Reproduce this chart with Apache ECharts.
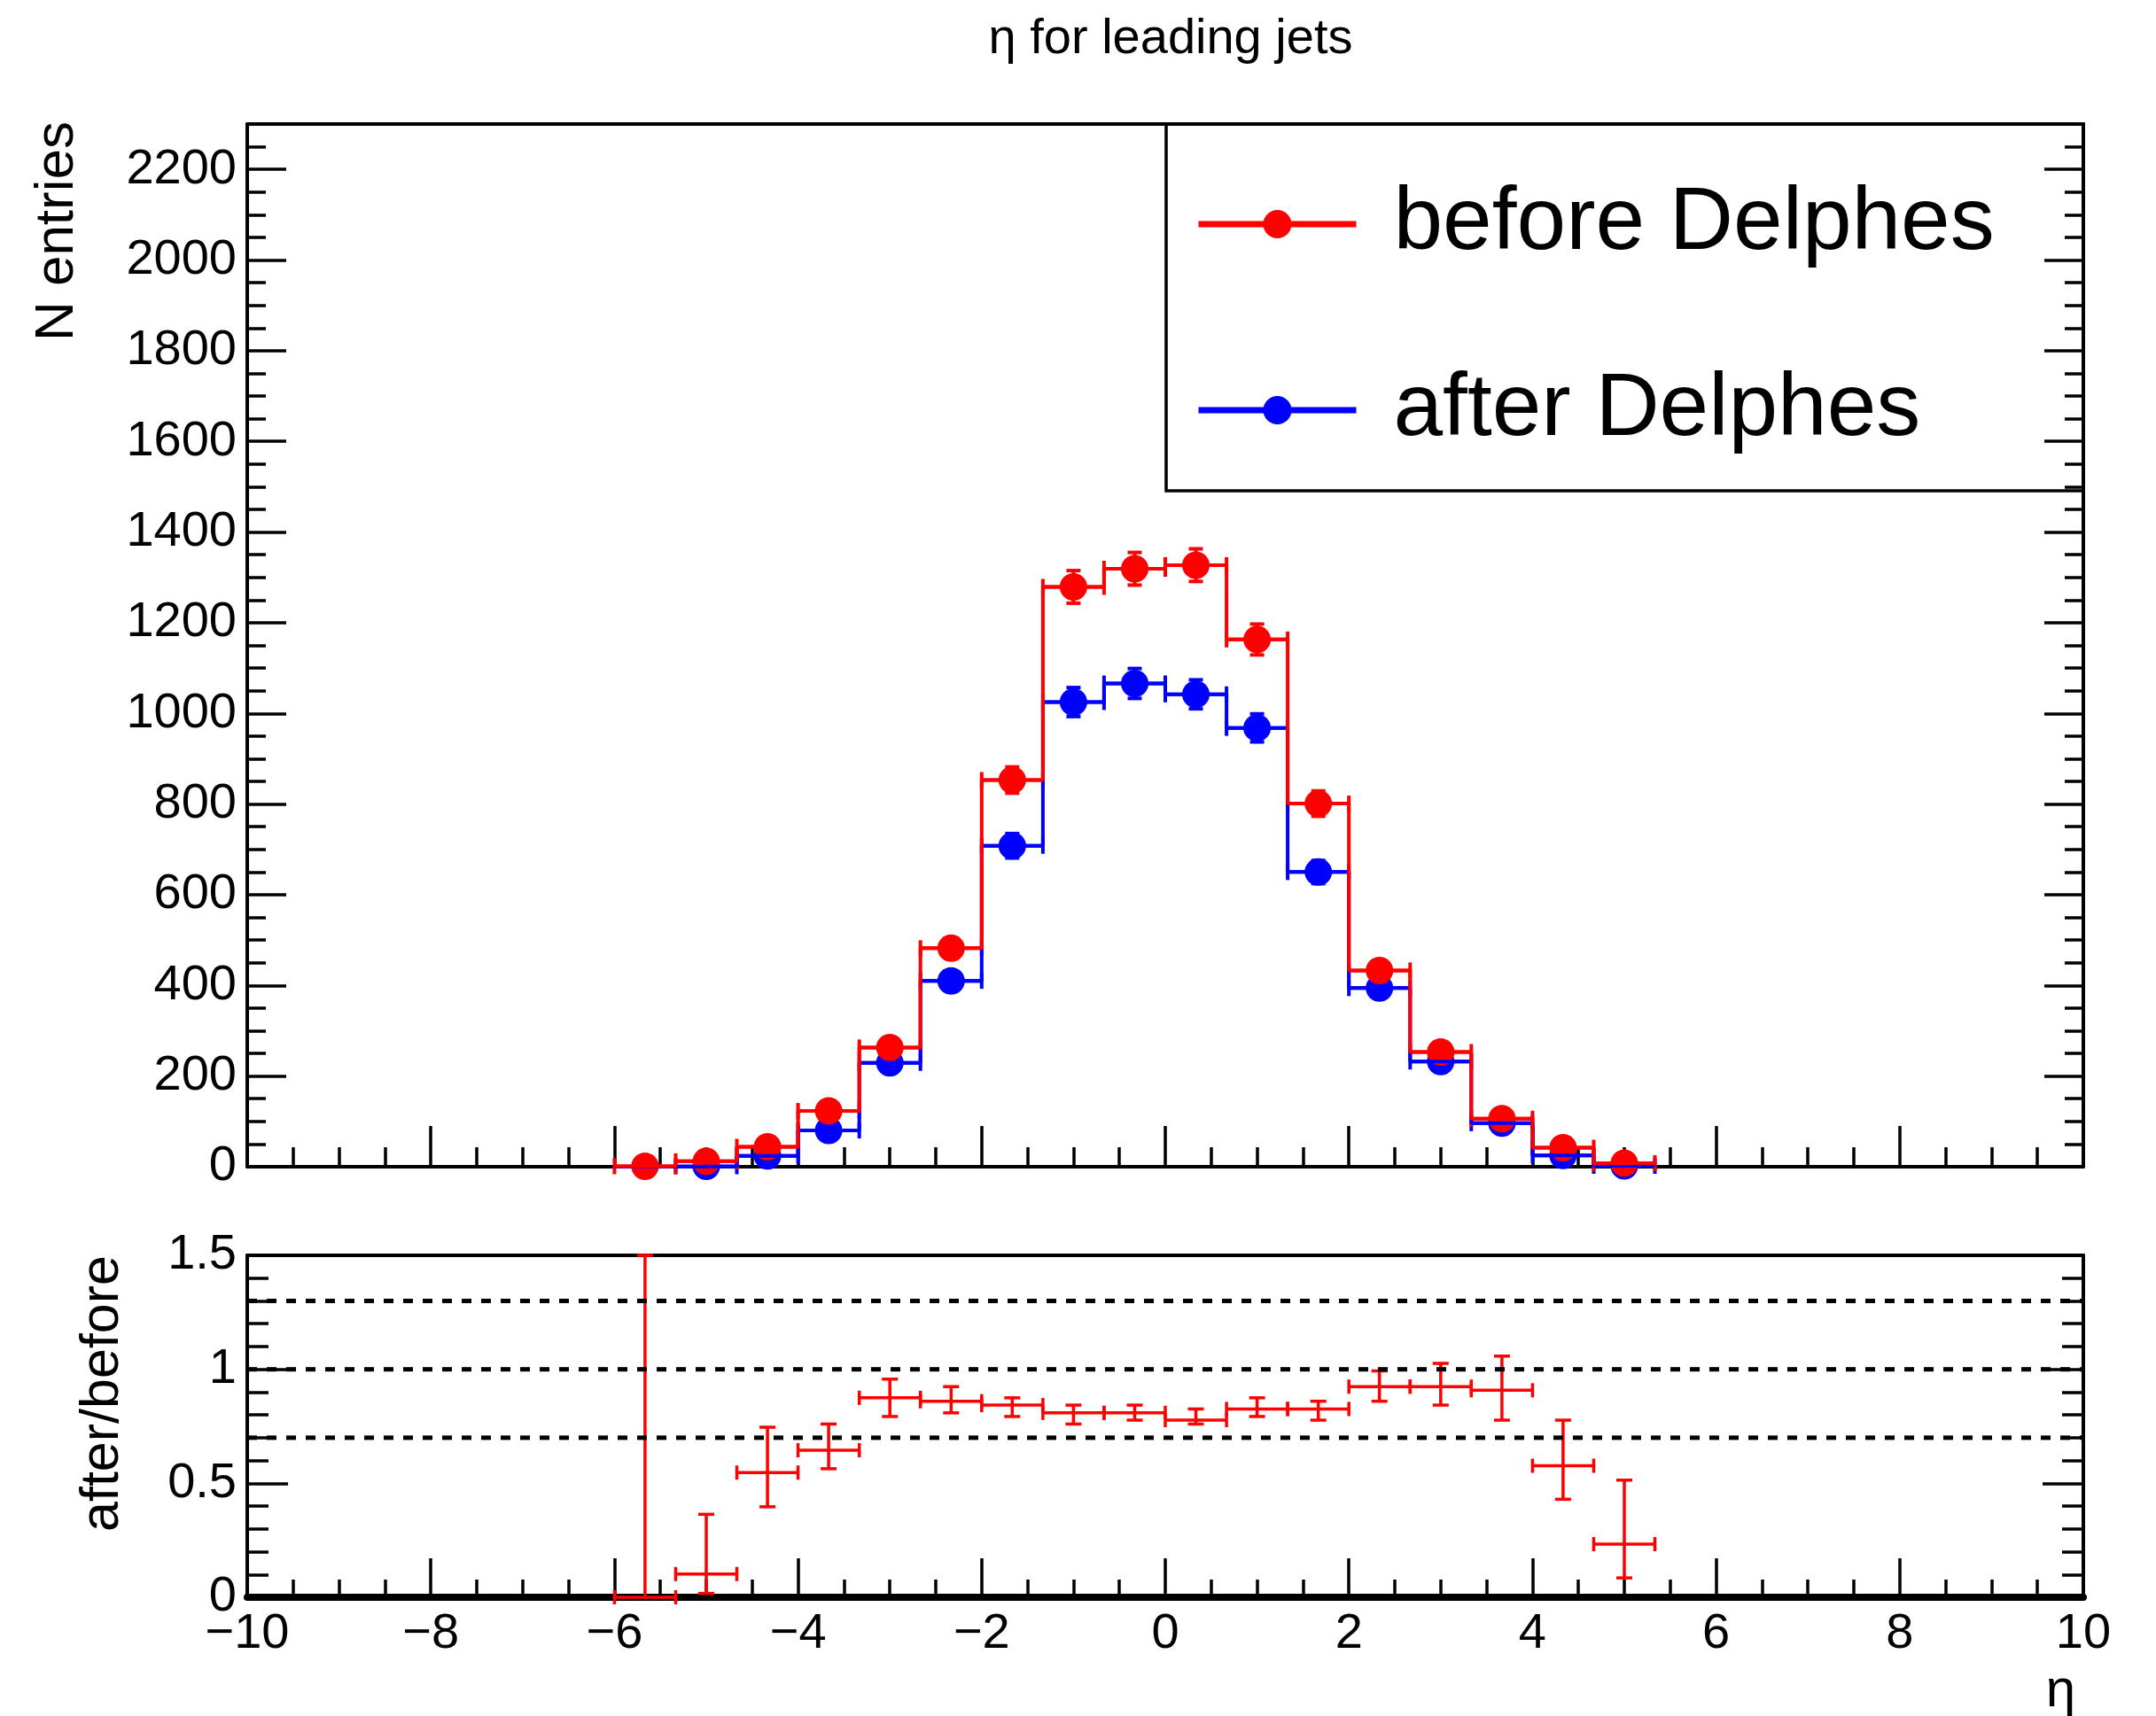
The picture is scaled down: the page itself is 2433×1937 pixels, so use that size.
<!DOCTYPE html>
<html>
<head>
<meta charset="utf-8">
<title>eta for leading jets</title>
<script src="https://cdn.jsdelivr.net/npm/echarts@6/dist/echarts.min.js"></script>
<style>
html, body { margin: 0; padding: 0; background: #fff; }
#main { width: 2433px; height: 1937px; }
</style>
</head>
<body>
<div id="main"></div>
<script>
// ---- data ----
// bin edges (width 2/3), only the filled part of the -10..10 range
var binEdges = [-6, -5.333, -4.667, -4, -3.333, -2.667, -2, -1.333, -0.667, 0, 0.667, 1.333, 2, 2.667, 3.333, 4, 4.667, 5.333];
var binCenters = [-5.667, -5, -4.333, -3.667, -3, -2.333, -1.667, -1, -0.333, 0.333, 1, 1.667, 2.333, 3, 3.667, 4.333, 5];

// before Delphes
var before = [1, 12, 44, 123, 263, 482, 853, 1279, 1319, 1327, 1163, 801, 433, 253, 106, 42, 8];
var beforeErr = [1, 3.5, 6.6, 11, 16, 22, 29, 36, 36, 36, 34, 28, 21, 16, 10, 6.5, 3];
// after Delphes
var after = [0, 1, 24, 80, 229, 410, 708, 1025, 1066, 1042, 968, 650, 394, 232, 96, 25, 2];
var afterErr = [0, 1, 5, 9, 15, 20, 27, 32, 33, 32, 31, 25.5, 20, 15, 10, 5, 1.4];

// ratio after/before (asymmetric errors)
var ratio = [0, 0.102, 0.547, 0.645, 0.875, 0.860, 0.843, 0.809, 0.809, 0.777, 0.826, 0.826, 0.924, 0.924, 0.908, 0.577, 0.233];
var ratioErrUp = [1.9, 0.262, 0.199, 0.115, 0.082, 0.064, 0.032, 0.034, 0.034, 0.049, 0.049, 0.034, 0.069, 0.102, 0.150, 0.200, 0.281];
var ratioErrDown = [0, 0.085, 0.150, 0.081, 0.082, 0.051, 0.050, 0.049, 0.032, 0.017, 0.033, 0.049, 0.064, 0.081, 0.131, 0.147, 0.148];

// dashed reference lines in the ratio pad
var refLines = [0.7, 1.0, 1.3];

// axis ranges
var etaRange = [-10, 10];
var nRange = [0, 2300];
var ratioRange = [0, 1.5];

var FONT = 'Liberation Sans, Arial, Helvetica, sans-serif';
var black = '#000';
var red = '#ff0000';
var blue = '#0000ff';

/* ------------------------------------------------------------------ */

// step outline: one point per bin edge, last edge repeats last value
function stepData(vals) {
	var out = [];
	for (var i = 0; i < binEdges.length; i++) {
		out.push([binEdges[i], vals[Math.min(i, vals.length - 1)]]);
	}
	return out;
}

// [center, value, errDown, errUp, lowEdge, highEdge]
function barData(vals, errDown, errUp, skipEmpty) {
	var out = [];
	for (var i = 0; i < binCenters.length; i++) {
		if (skipEmpty && vals[i] <= 0) continue;
		out.push([binCenters[i], vals[i], errDown[i], errUp[i], binEdges[i], binEdges[i + 1]]);
	}
	return out;
}

// ROOT style E1 cross: bin-width bar + error bar, both with end caps
function errorBars(color, lw, capH, capW, r) {
	return function (params, api) {
		var x = api.value(0), y = api.value(1);
		var cs = params.coordSys;
		var top = cs.y, bot = cs.y + cs.height;
		function clampY(v) { return Math.max(top, Math.min(bot, v)); }
		var c = api.coord([x, y]);
		var xl = api.coord([api.value(4), y])[0];
		var xr = api.coord([api.value(5), y])[0];
		var yLo = clampY(api.coord([x, y - api.value(2)])[1]);
		var yHi = clampY(api.coord([x, y + api.value(3)])[1]);
		var st = { stroke: color, lineWidth: lw, fill: null };
		var kids = [
			{ type: 'line', shape: { x1: xl, y1: c[1], x2: xr, y2: c[1] }, style: st },
			{ type: 'line', shape: { x1: xl, y1: c[1] - capH, x2: xl, y2: c[1] + capH }, style: st },
			{ type: 'line', shape: { x1: xr, y1: c[1] - capH, x2: xr, y2: c[1] + capH }, style: st }
		];
		if (api.value(3) > 0) {
			kids.push({ type: 'line', shape: { x1: c[0], y1: c[1], x2: c[0], y2: yHi }, style: st });
			kids.push({ type: 'line', shape: { x1: c[0] - capW, y1: yHi, x2: c[0] + capW, y2: yHi }, style: st });
		}
		if (api.value(2) > 0) {
			kids.push({ type: 'line', shape: { x1: c[0], y1: c[1], x2: c[0], y2: yLo }, style: st });
			kids.push({ type: 'line', shape: { x1: c[0] - capW, y1: yLo, x2: c[0] + capW, y2: yLo }, style: st });
		}
		if (r) {
			kids.push({ type: 'circle', shape: { cx: c[0], cy: c[1], r: r }, style: { fill: color } });
		}
		return { type: 'group', children: kids };
	};
}

function minus(v) {
	return v < 0 ? '\u2212' + Math.abs(v) : String(v);
}

var labelStyle = { fontFamily: FONT, fontSize: 56, color: black };
function tick(len, w) { return { inside: true, length: len, lineStyle: { color: black, width: w } }; }
function frameLine(w) { return { show: true, onZero: false, lineStyle: { color: black, width: w } }; }
var noSplit = { show: false };

var chart = echarts.init(document.getElementById('main'), null, { renderer: 'canvas' });

var series = [];
refLines.forEach(function (v) {
	series.push({
		type: 'line', xAxisIndex: 2, yAxisIndex: 4, silent: true, symbol: 'none',
		data: [[etaRange[0], v], [etaRange[1], v]],
		lineStyle: { color: black, width: 5, type: [11, 11] }
	});
});
series.push({
	type: 'line', name: 'after Delphes', xAxisIndex: 0, yAxisIndex: 0, step: 'end',
	symbol: 'none', color: blue, data: stepData(after), lineStyle: { color: blue, width: 4 }
});
series.push({
	type: 'custom', name: 'after bars', xAxisIndex: 0, yAxisIndex: 0,
	data: barData(after, afterErr, afterErr, true), encode: { x: 0, y: 1 },
	renderItem: errorBars(blue, 4, 9, 8, 15.5)
});
series.push({
	type: 'line', name: 'before Delphes', xAxisIndex: 0, yAxisIndex: 0, step: 'end',
	symbol: 'none', color: red, data: stepData(before), lineStyle: { color: red, width: 4 }
});
series.push({
	type: 'custom', name: 'before bars', xAxisIndex: 0, yAxisIndex: 0,
	data: barData(before, beforeErr, beforeErr, true), encode: { x: 0, y: 1 },
	renderItem: errorBars(red, 4, 9, 8, 15.5)
});
series.push({
	type: 'custom', name: 'ratio', xAxisIndex: 2, yAxisIndex: 4,
	data: barData(ratio, ratioErrDown, ratioErrUp, false), encode: { x: 0, y: 1 },
	renderItem: errorBars(red, 3.5, 8, 9, 0)
});

var option = {
	animation: false,
	backgroundColor: '#fff',
	title: {
		text: '\u03b7 for leading jets', left: 1316, top: 12, textAlign: 'center',
		textStyle: { fontFamily: FONT, fontSize: 56, fontWeight: 'normal', color: black }
	},
	legend: {
		orient: 'vertical', left: 1344, top: 198, itemWidth: 178, itemHeight: 40, itemGap: 110,
		selectedMode: false, data: ['before Delphes', 'after Delphes'],
		lineStyle: { width: 7 },
		textStyle: { fontFamily: FONT, fontSize: 100, color: black, padding: [0, 0, 0, 37] }
	},
	grid: [
		{ left: 279, top: 140, width: 2072, height: 1177 },
		{ left: 279, top: 1417, width: 2072, height: 386 }
	],
	xAxis: [
		{ gridIndex: 0, type: 'value', position: 'bottom', min: etaRange[0], max: etaRange[1], interval: 2,
			axisLine: frameLine(4), axisTick: tick(46, 3.5),
			minorTick: { show: true, splitNumber: 4, length: 22, lineStyle: { color: black, width: 3.5 } },
			axisLabel: { show: false }, splitLine: noSplit, minorSplitLine: noSplit },
		{ gridIndex: 0, type: 'value', position: 'top', min: etaRange[0], max: etaRange[1],
			axisLine: frameLine(4), axisTick: { show: false }, axisLabel: { show: false }, splitLine: noSplit },
		{ gridIndex: 1, type: 'value', position: 'bottom', min: etaRange[0], max: etaRange[1], interval: 2,
			axisLine: frameLine(8), axisTick: tick(44, 3.5),
			minorTick: { show: true, splitNumber: 4, length: 20, lineStyle: { color: black, width: 3.5 } },
			axisLabel: Object.assign({ margin: 14, formatter: minus }, labelStyle), splitLine: noSplit },
		{ gridIndex: 1, type: 'value', position: 'top', min: etaRange[0], max: etaRange[1],
			axisLine: frameLine(4), axisTick: { show: false }, axisLabel: { show: false }, splitLine: noSplit }
	],
	yAxis: [
		{ gridIndex: 0, type: 'value', position: 'left', min: nRange[0], max: nRange[1], interval: 200,
			axisLine: frameLine(4), axisTick: tick(44, 3.5), splitLine: noSplit,
			axisLabel: Object.assign({ margin: 12, formatter: function (v) { return v % 200 === 0 ? String(v) : ''; } }, labelStyle) },
		{ gridIndex: 0, type: 'value', position: 'left', min: nRange[0], max: nRange[1], interval: 50,
			axisLine: { show: false, onZero: false }, axisTick: tick(21, 3.5), axisLabel: { show: false }, splitLine: noSplit },
		{ gridIndex: 0, type: 'value', position: 'right', min: nRange[0], max: nRange[1], interval: 200,
			axisLine: frameLine(4), axisTick: tick(44, 3.5), axisLabel: { show: false }, splitLine: noSplit },
		{ gridIndex: 0, type: 'value', position: 'right', min: nRange[0], max: nRange[1], interval: 50,
			axisLine: { show: false, onZero: false }, axisTick: tick(21, 3.5), axisLabel: { show: false }, splitLine: noSplit },
		{ gridIndex: 1, type: 'value', position: 'left', min: ratioRange[0], max: ratioRange[1], interval: 0.5,
			axisLine: frameLine(4), axisTick: tick(46, 3.5),
			minorTick: { show: true, splitNumber: 5, length: 24, lineStyle: { color: black, width: 3.5 } },
			axisLabel: Object.assign({ margin: 12 }, labelStyle), splitLine: noSplit, minorSplitLine: noSplit },
		{ gridIndex: 1, type: 'value', position: 'right', min: ratioRange[0], max: ratioRange[1], interval: 0.5,
			axisLine: frameLine(4), axisTick: tick(46, 3.5),
			minorTick: { show: true, splitNumber: 5, length: 24, lineStyle: { color: black, width: 3.5 } },
			axisLabel: { show: false }, splitLine: noSplit, minorSplitLine: noSplit }
	],
	graphic: [
		// legend frame
		{ type: 'rect', z: 0, shape: { x: 1316, y: 140, width: 1035, height: 414 },
			style: { fill: 'transparent', stroke: black, lineWidth: 3.5 } },
		// axis titles
		{ type: 'text', x: 65, y: 137, rotation: Math.PI / 2,
			style: { text: 'N entries', font: '62px ' + FONT, fill: black, align: 'right', verticalAlign: 'middle' } },
		{ type: 'text', x: 116, y: 1417, rotation: Math.PI / 2,
			style: { text: 'after/before', font: '61px ' + FONT, fill: black, align: 'right', verticalAlign: 'middle' } },
		{ type: 'text', x: 2342, y: 1909,
			style: { text: '\u03b7', font: '60px ' + FONT, fill: black, align: 'right', verticalAlign: 'middle' } }
	],
	series: series
};

chart.setOption(option);
</script>
</body>
</html>
